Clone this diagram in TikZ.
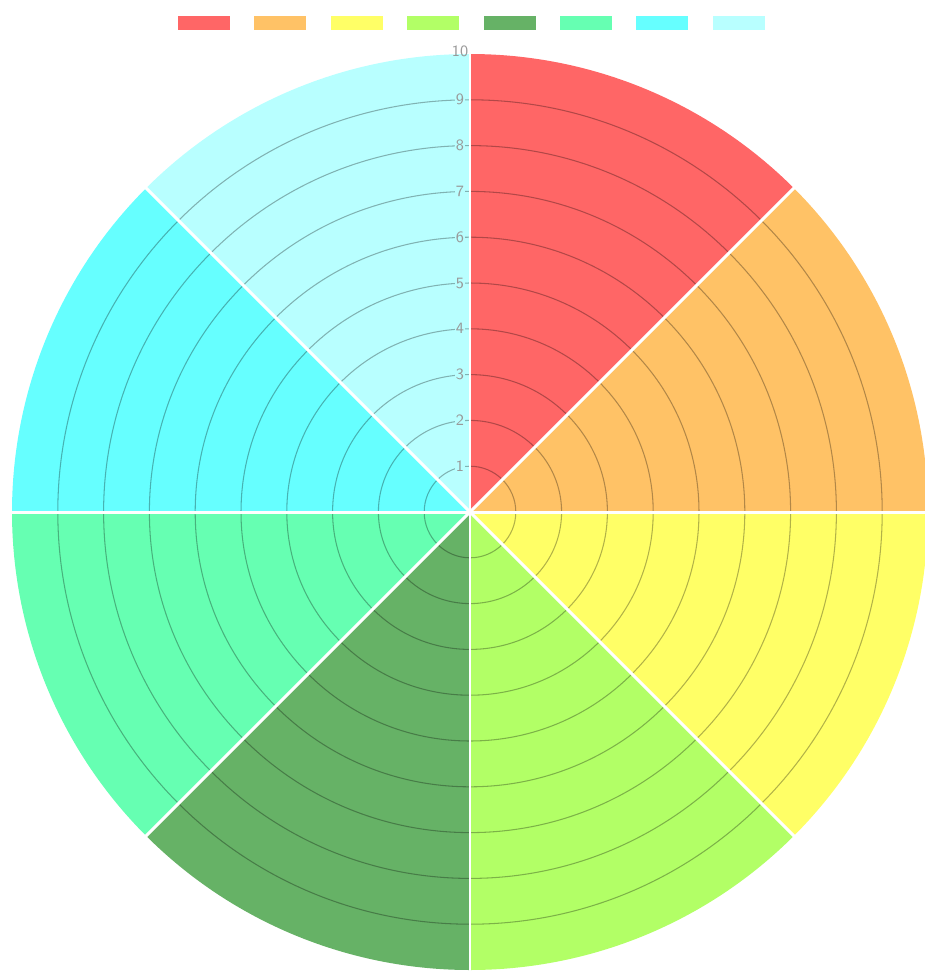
\documentclass[tikz,border=0pt]{standalone}
\definecolor{cRed}{HTML}{FF6666}
\definecolor{cOrange}{HTML}{FFC266}
\definecolor{cYellow}{HTML}{FFFF66}
\definecolor{cLGreen}{HTML}{B2FF66}
\definecolor{cDGreen}{HTML}{66B266}
\definecolor{cMint}{HTML}{66FFB2}
\definecolor{cCyan}{HTML}{66FFFF}
\definecolor{cLCyan}{HTML}{B8FFFF}
\begin{document}
\begin{tikzpicture}[x=0.02cm,y=-0.02cm,
  ring/.style={black,opacity=0.3,line width=0.6pt},
  spoke/.style={white,line width=1.7pt},
  tick/.style={text=black!40,font=\sffamily\small,inner sep=0.8pt,fill=cLCyan},
  legbox/.style={minimum width=1.04cm,minimum height=0.28cm,inner sep=0pt}]
\useasboundingbox (0,0) rectangle (925,971);
\coordinate (c) at (470,512);
\foreach \col [count=\i] in {cRed,cOrange,cYellow,cLGreen,cDGreen,cMint,cCyan,cLCyan} {
  \fill[\col] (c) -- ++({-135+45*\i}:458) arc ({-135+45*\i}:{-90+45*\i}:458) -- cycle;
  \node[legbox,fill=\col] (leg\i) at ({204+76.4*(\i-1)},23) {};
}
\foreach \r in {1,...,9}
  \draw[ring] (c) circle ({45.8*\r});
\foreach \a in {0,45,...,315}
  \draw[spoke] (c) -- ++(\a:460);
\foreach \r in {1,...,9}
  \node[tick] (t\r) at (460,{512-45.8*\r}) {\r};
\node[tick,fill=none] (t10) at (460,51) {10};
\end{tikzpicture}
\end{document}
